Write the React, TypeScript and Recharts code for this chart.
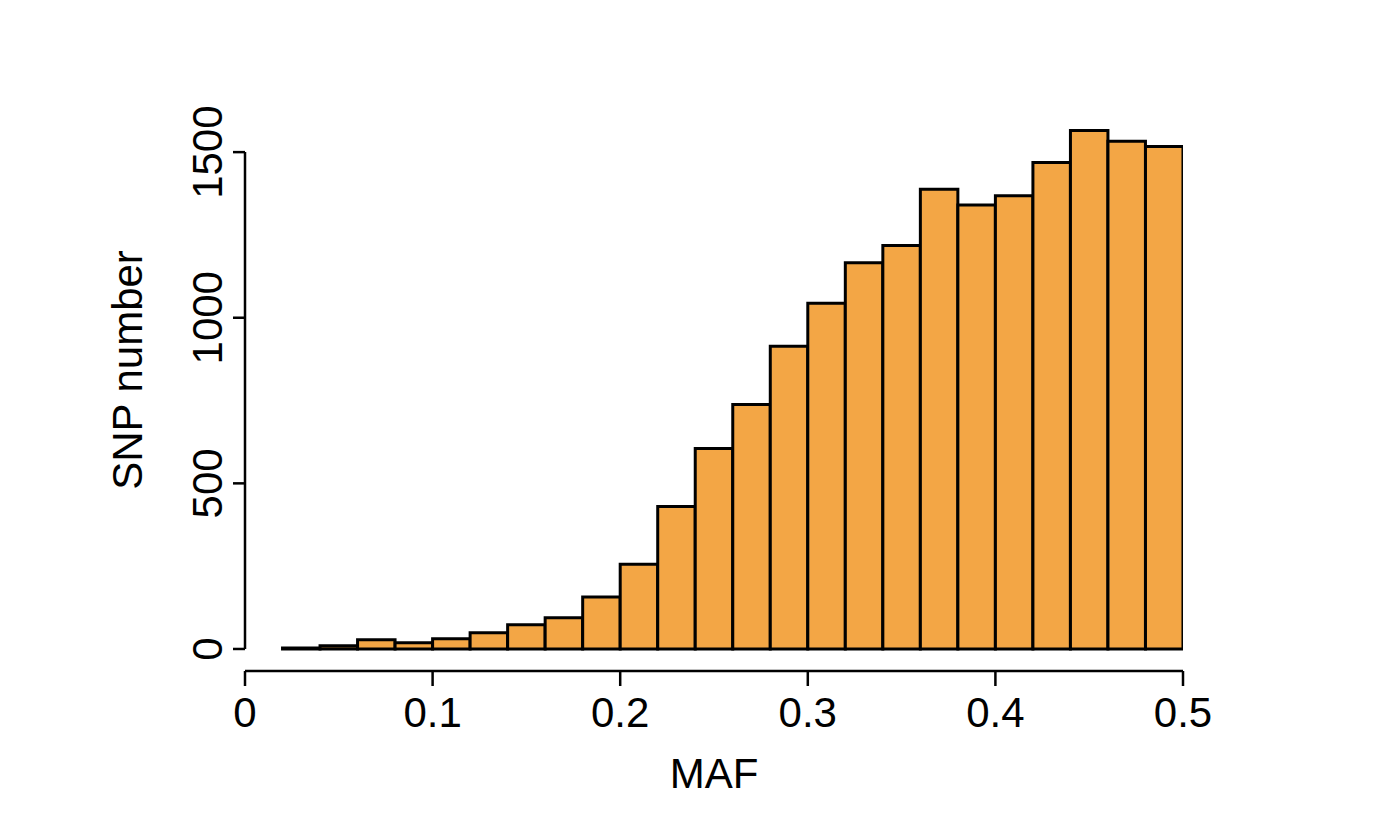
import { ComposedChart, Bar, XAxis, YAxis, ReferenceLine, Label } from "recharts";

// MAF histogram, bins of width 0.02 (mid points) and SNP counts
const binMid = [
	0.03, 0.05, 0.07, 0.09, 0.11, 0.13, 0.15, 0.17, 0.19, 0.21, 0.23, 0.25,
	0.27, 0.29, 0.31, 0.33, 0.35, 0.37, 0.39, 0.41, 0.43, 0.45, 0.47, 0.49,
];
const snpCount = [
	3, 10, 28, 19, 31, 49, 73, 94, 157, 256, 430, 605,
	738, 914, 1044, 1166, 1218, 1388, 1340, 1368, 1469, 1565, 1533, 1517,
];
const xTicks = [0, 0.1, 0.2, 0.3, 0.4, 0.5];
const yTicks = [0, 500, 1000, 1500];

const FONT = "'Liberation Sans', Arial, sans-serif";
const FILL = "#F3A645";

const data = binMid.map((m, i) => ({ mid: m, count: snpCount[i] }));

function XTick({ x, y, payload }: any) {
	return (
		<text x={x} y={y + 39} textAnchor="middle" fontSize={42} fontFamily={FONT} fill="#000">
			{payload.value === 0 ? "0" : String(payload.value)}
		</text>
	);
}

function YTick({ x, y, payload }: any) {
	const bx = x - 9;
	return (
		<text
			x={bx}
			y={y}
			textAnchor="middle"
			fontSize={42}
			fontFamily={FONT}
			fill="#000"
			transform={`rotate(-90, ${bx}, ${y})`}
		>
			{payload.value}
		</text>
	);
}

export default function App() {
	return (
		<div style={{ position: "absolute", left: 0, top: 0, width: 1383, height: 837, background: "#fff" }}>
			<ComposedChart
				width={1383}
				height={837}
				data={data}
				margin={{ top: 119, right: 200, bottom: 36, left: 95 }}
			>
				<XAxis
					dataKey="mid"
					type="number"
					domain={[0, 0.5]}
					allowDataOverflow
					ticks={xTicks}
					height={130}
					tickSize={15}
					axisLine={{ stroke: "#000", strokeWidth: 2.5 }}
					tickLine={{ stroke: "#000", strokeWidth: 2.5 }}
					tick={<XTick />}
				>
					<Label
						content={() => (
							<text x={714} y={788} textAnchor="middle" fontSize={42} fontFamily={FONT} fill="#000">
								MAF
							</text>
						)}
					/>
				</XAxis>
				<YAxis
					type="number"
					domain={[-66.5, 1600]}
					allowDataOverflow
					ticks={yTicks}
					width={150}
					tickSize={12}
					axisLine={false}
					tickLine={{ stroke: "#000", strokeWidth: 2.5 }}
					tick={<YTick />}
				>
					<Label
						content={() => (
							<text
								x={142}
								y={370}
								textAnchor="middle"
								fontSize={42}
								fontFamily={FONT}
								fill="#000"
								transform="rotate(-90, 142, 370)"
							>
								SNP number
							</text>
						)}
					/>
				</YAxis>
				<ReferenceLine
					segment={[
						{ x: 0, y: 0 },
						{ x: 0, y: 1500 },
					]}
					stroke="#000"
					strokeWidth={2.5}
					ifOverflow="visible"
				/>
				<Bar
					dataKey="count"
					fill={FILL}
					stroke="#000"
					strokeWidth={3}
					barSize={37.5}
					isAnimationActive={false}
				/>
			</ComposedChart>
		</div>
	);
}
